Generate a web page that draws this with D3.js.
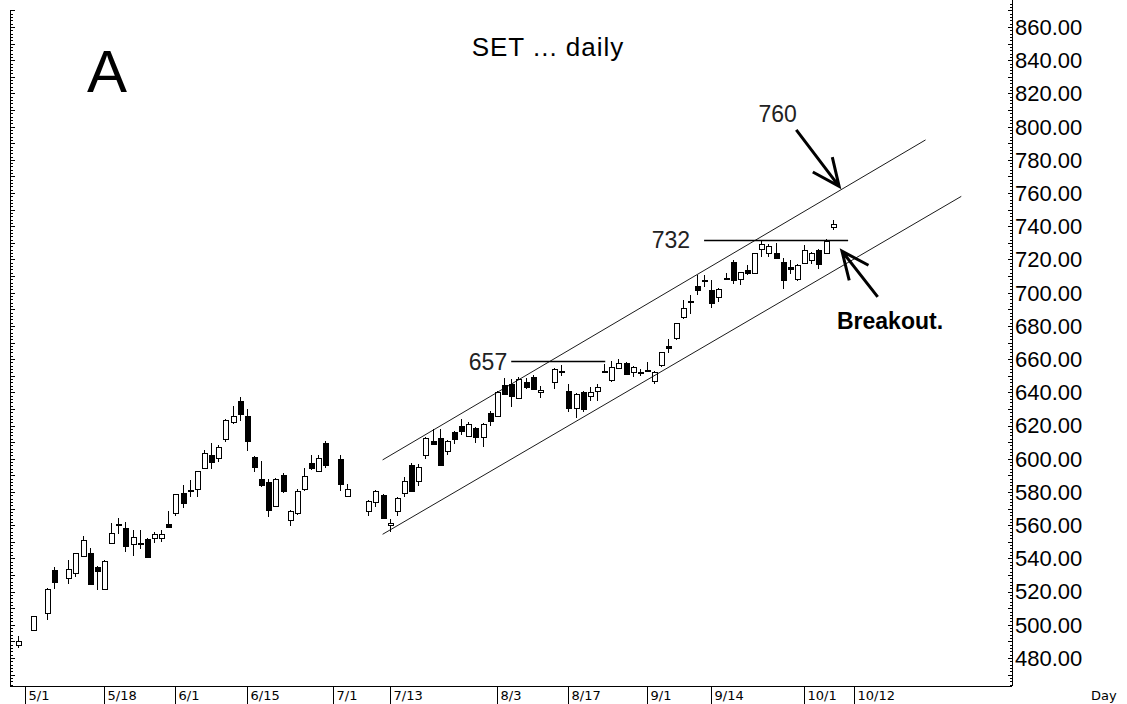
<!DOCTYPE html>
<html lang="en">
<head>
  <meta charset="UTF-8">
  <title>SET daily</title>
  <script src="https://d3js.org/d3.v7.min.js"></script>
  <style>
    html, body { margin: 0; padding: 0; background: #fff; }
    svg { display: block; font-family: "Liberation Sans", Arial, sans-serif; }
    .candle line, .candle rect { shape-rendering: crispEdges; }
    .axis line, .axis path { shape-rendering: crispEdges; stroke: #000; }
    .xlab { font-family: "DejaVu Sans", Verdana, sans-serif; font-size: 13px; }
  </style>
</head>
<body>
<svg id="chart" width="1127" height="704"></svg>
<script>
// trading days, 2009
var dates = ["4/30","5/4","5/6","5/7","5/11","5/12","5/13","5/14","5/15","5/18",
  "5/19","5/20","5/21","5/22","5/25","5/26","5/27","5/28","5/29","6/1",
  "6/2","6/3","6/4","6/5","6/8","6/9","6/10","6/11","6/12","6/15",
  "6/16","6/17","6/18","6/19","6/22","6/23","6/24","6/25","6/26","6/29",
  "6/30","7/2","7/3","7/8","7/9","7/10","7/13","7/14","7/15","7/16",
  "7/17","7/20","7/21","7/22","7/23","7/24","7/27","7/28","7/29","7/30",
  "7/31","8/3","8/4","8/5","8/6","8/7","8/10","8/11","8/13","8/14",
  "8/17","8/18","8/19","8/20","8/21","8/24","8/25","8/26","8/27","8/28",
  "8/31","9/1","9/2","9/3","9/4","9/7","9/8","9/9","9/10","9/11",
  "9/14","9/15","9/16","9/17","9/18","9/21","9/22","9/23","9/24","9/25",
  "9/28","9/29","9/30","10/1","10/2","10/5","10/6","10/7"];

var opens = [488,496.6,507,533,528.5,531.3,541.7,543,535,521.8,
  549.2,560,558.2,548.8,549.5,551.8,552,552,560.6,567.3,
  579.4,581.2,581.4,594.8,602.5,600.2,611.7,622.5,634.6,625.6,
  601,587.8,585.8,571.7,590.2,563,567.7,581.8,597.4,592.8,
  609.3,600,577.3,568.7,574.3,578.3,559.5,568.3,579.8,596.4,
  586.4,602,610.9,612.5,604.9,616.3,619.8,614,618.3,613,
  627.4,625.4,644.7,645,636.8,646,649.1,640,646.1,653.1,
  640.7,630.6,640,637.4,641,653.1,647.1,654.8,657.8,652.7,
  652.3,653.5,646.7,656.1,667.6,672.9,685.7,695,703.8,707.4,
  701.4,697.8,708.9,718.5,708.4,713.9,711.8,726.5,723.9,723.6,
  718.5,715.5,707.8,717.9,719.5,725.9,723.6,740];

var highs = [493,505.5,522,535,539,543.5,553.5,546,535.5,539,
  561.4,564.3,562,557,557,552,556,557,568.3,579,
  584.4,587,592.5,605,609.3,608.3,624,632,637.4,630,
  601.5,598.4,587.6,588.5,591.5,569,582,594.4,602,602.5,
  610.5,602,584.8,575,581,578.5,563.5,577,589,597.4,
  597,613,618,618,611,617,624,622.4,619,621.5,
  629,641,648.7,648,649,648.5,650.2,643.9,654.5,656.6,
  645,639.5,640.5,643,645,657.2,659.1,660,658.5,656,
  654.2,658.1,653,664.5,672.2,682,695.8,698.4,710.4,710.4,
  707.4,703,711.8,719.5,712.5,716.5,724,731.5,729.6,730,
  721.1,719.5,717,728.5,724.5,726.5,732.5,744];

var lows = [486,496,503,521.5,524.5,528.5,541,524,521,521,
  548.5,554.6,544,541.7,545.6,540,549,550,558.5,565.5,
  570.3,577,576.7,593.8,593.8,598,610,621,622.5,604.5,
  591.8,583.2,565,571,579.5,559.2,566,580.5,593,592,
  594.4,580.8,577,565.7,571,564,555.6,565.7,577,580.5,
  583.8,600,608.5,596,602.5,609,614,613.5,609.3,607.3,
  620,625,639,631,636,642,641.5,636.4,642,650.1,
  628,624.6,628,635,635,652,646.5,654,651,649.1,
  649.7,652,645,655.5,663.6,671.6,684,687.3,698.4,703.4,
  691,694.3,707.8,705.4,704.8,710.4,711,721.5,721.5,720,
  702.4,711.4,707,717,717.5,714.5,723,737.6];

var closes = [490.5,505,521.5,526,533.7,543.2,551.2,524.6,532.3,538.7,
  555.2,560.5,547.4,552.8,549,540.7,554.7,554.7,558.8,578.8,
  573.1,580.6,592.4,603.7,598.2,606.9,623.3,626,627,610.3,
  595.2,584.4,568.7,587.8,580.8,568.7,580.8,589.4,594.2,600.5,
  595.8,584.8,581.8,574.7,580.8,564.3,561,576.4,586.8,580.8,
  595,612.5,609.3,596.4,610.9,611.9,616.5,621,612.9,621,
  622.4,640,639.4,638,648,642.7,642.1,641.4,654.2,652.3,
  630.6,639,630,640,643.5,652.3,655,657.8,651.2,655.5,
  652,652.7,652.1,664.2,666.2,681.7,691,694.1,701.4,706.6,
  693.4,702.4,708.4,707.4,712.4,711.8,723.6,729.6,727.9,720.5,
  707.4,714.5,716.5,725.9,723.6,717.5,730.9,741.6];

var xTickLabels = ["5/1","5/18","6/1","6/15","7/1","7/13","8/3","8/17","9/1","9/14","10/1","10/12"];
var yTickValues = [480,500,520,540,560,580,600,620,640,660,680,700,720,740,760,780,800,820,840,860];

// trend channel and levels, in [date, price]
var upperChannel = [["7/10", 599.3], ["10/26", 792]];
var lowerChannel = [["7/10", 554.5], ["11/2", 758]];
var levels = [
  {label: "657", value: 658.7, from: "8/5", to: "8/25", gap: 4},
  {label: "732", value: 731.7, from: "9/11", to: "10/12", gap: 14}
];

// weekday calendar: every Mon-Fri gets a slot, holidays stay empty
var baseDay = new Date(2009, 3, 30);
function slot(s) {
  var p = s.split("/");
  var d = new Date(2009, +p[0] - 1, +p[1]);
  var n = 0, t = new Date(baseDay);
  while (t < d) {
    t.setDate(t.getDate() + 1);
    if (t.getDay() !== 0 && t.getDay() !== 6) n++;
  }
  return n;
}

var data = dates.map(function(d, i) {
  return {date: d, i: slot(d), o: opens[i], h: highs[i], l: lows[i], c: closes[i]};
});

var svg = d3.select("#chart");
var left = 10, right = 1012, bottom = 686;

var x = d3.scaleLinear().domain([-1.16, 139.1]).range([left, right]);
var y = d3.scaleLinear().domain([480, 860]).range([658, 27]);

// frame line at the bottom
svg.append("line").attr("class", "axis")
  .attr("x1", left).attr("x2", right).attr("y1", bottom + 0.5).attr("y2", bottom + 0.5)
  .attr("stroke", "#000");

// left ruler
var leftAxis = svg.append("g").attr("class", "axis");
leftAxis.append("line").attr("x1", left + 0.5).attr("x2", left + 0.5)
  .attr("y1", 10).attr("y2", bottom).attr("stroke", "#000");
d3.range(464, 874, 2).forEach(function(v) {
  var yy = Math.round(y(v)) + 0.5;
  if (yy < 10 || yy > bottom) return;
  leftAxis.append("line").attr("x1", left).attr("x2", left + (v % 10 === 0 ? 5 : 3))
    .attr("y1", yy).attr("y2", yy).attr("stroke", "#000");
});

// right price axis
var rightAxis = svg.append("g").attr("class", "axis");
rightAxis.append("line").attr("x1", right + 0.5).attr("x2", right + 0.5)
  .attr("y1", 0).attr("y2", bottom).attr("stroke", "#000");
d3.range(464, 876, 2).forEach(function(v) {
  var yy = Math.round(y(v)) + 0.5;
  if (yy < 0 || yy > bottom) return;
  rightAxis.append("line").attr("x1", right - (v % 10 === 0 ? 4 : 2)).attr("x2", right)
    .attr("y1", yy).attr("y2", yy).attr("stroke", "#000");
});
rightAxis.selectAll("text").data(yTickValues).enter().append("text")
  .attr("x", right + 3).attr("y", function(d) { return y(d); })
  .attr("dy", "0.36em").style("font-size", "22px")
  .text(function(d) { return d3.format(".2f")(d); });

// date axis
var xAxis = svg.append("g").attr("class", "axis");
xTickLabels.forEach(function(lab) {
  var xx = Math.round(x(slot(lab))) + 0.5;
  xAxis.append("line").attr("x1", xx).attr("x2", xx)
    .attr("y1", bottom).attr("y2", 704).attr("stroke", "#000");
  xAxis.append("text").attr("class", "xlab").attr("x", xx + 3).attr("y", 700).text(lab);
});
svg.append("text").attr("class", "xlab").attr("x", 1091).attr("y", 700).text("Day");

// candles
var candle = svg.append("g").attr("class", "candle")
  .selectAll("g").data(data).enter().append("g");
candle.append("line")
  .attr("x1", function(d) { return Math.round(x(d.i)) + 0.5; })
  .attr("x2", function(d) { return Math.round(x(d.i)) + 0.5; })
  .attr("y1", function(d) { return Math.round(y(d.h)); })
  .attr("y2", function(d) { return Math.round(y(d.l)); })
  .attr("stroke", "#000");
candle.append("rect")
  .attr("x", function(d) { return Math.round(x(d.i)) - 2 + 0.5; })
  .attr("width", 5)
  .attr("y", function(d) { return Math.round(y(Math.max(d.o, d.c))) + 0.5; })
  .attr("height", function(d) { return Math.max(1, Math.round(y(Math.min(d.o, d.c)) - y(Math.max(d.o, d.c)))); })
  .attr("fill", function(d) { return d.c >= d.o ? "#fff" : "#000"; })
  .attr("stroke", "#000");

// channel lines
[upperChannel, lowerChannel].forEach(function(seg) {
  svg.append("line")
    .attr("x1", x(slot(seg[0][0]))).attr("y1", y(seg[0][1]))
    .attr("x2", x(slot(seg[1][0]))).attr("y2", y(seg[1][1]))
    .attr("stroke", "#000").attr("stroke-width", 0.9);
});

// resistance levels
levels.forEach(function(lv) {
  var x0 = x(slot(lv.from));
  svg.append("line")
    .attr("x1", x0).attr("x2", x(slot(lv.to)) - 6)
    .attr("y1", Math.round(y(lv.value)) + 0.5).attr("y2", Math.round(y(lv.value)) + 0.5)
    .attr("stroke", "#000").attr("stroke-width", 1.6);
  svg.append("text")
    .attr("x", x0 - lv.gap).attr("y", y(lv.value))
    .attr("dy", "0.36em").attr("text-anchor", "end")
    .style("font-size", "23px").style("fill", "#222").text(lv.label);
});

// arrows
function arrow(x1, y1, x2, y2) {
  var a = Math.atan2(y2 - y1, x2 - x1), len = 30, spread = 0.42;
  var p = d3.path();
  p.moveTo(x1, y1); p.lineTo(x2, y2);
  p.moveTo(x2 - len * Math.cos(a - spread), y2 - len * Math.sin(a - spread));
  p.lineTo(x2, y2);
  p.lineTo(x2 - len * Math.cos(a + spread), y2 - len * Math.sin(a + spread));
  svg.append("path").attr("d", p.toString()).attr("fill", "none")
    .attr("stroke", "#000").attr("stroke-width", 3).attr("stroke-linejoin", "miter");
}
arrow(x(108.9), y(798), x(114.9), y(764));
arrow(x(120.3), y(697.5), x(115.3), y(725));

svg.append("text").attr("x", x(106.3)).attr("y", y(808)).attr("dy", "0.36em")
  .attr("text-anchor", "middle").style("font-size", "23px").style("fill", "#222").text("760");
svg.append("text").attr("x", x(114.6)).attr("y", y(683)).attr("dy", "0.36em")
  .style("font-size", "23px").style("font-weight", "bold").text("Breakout.");

// title and panel letter
svg.append("text").attr("x", 548).attr("y", 56).attr("text-anchor", "middle")
  .style("font-size", "26px").style("letter-spacing", "1px").text("SET ... daily");
svg.append("text").attr("x", 87).attr("y", 92).style("font-size", "60px").text("A");
</script>
</body>
</html>
